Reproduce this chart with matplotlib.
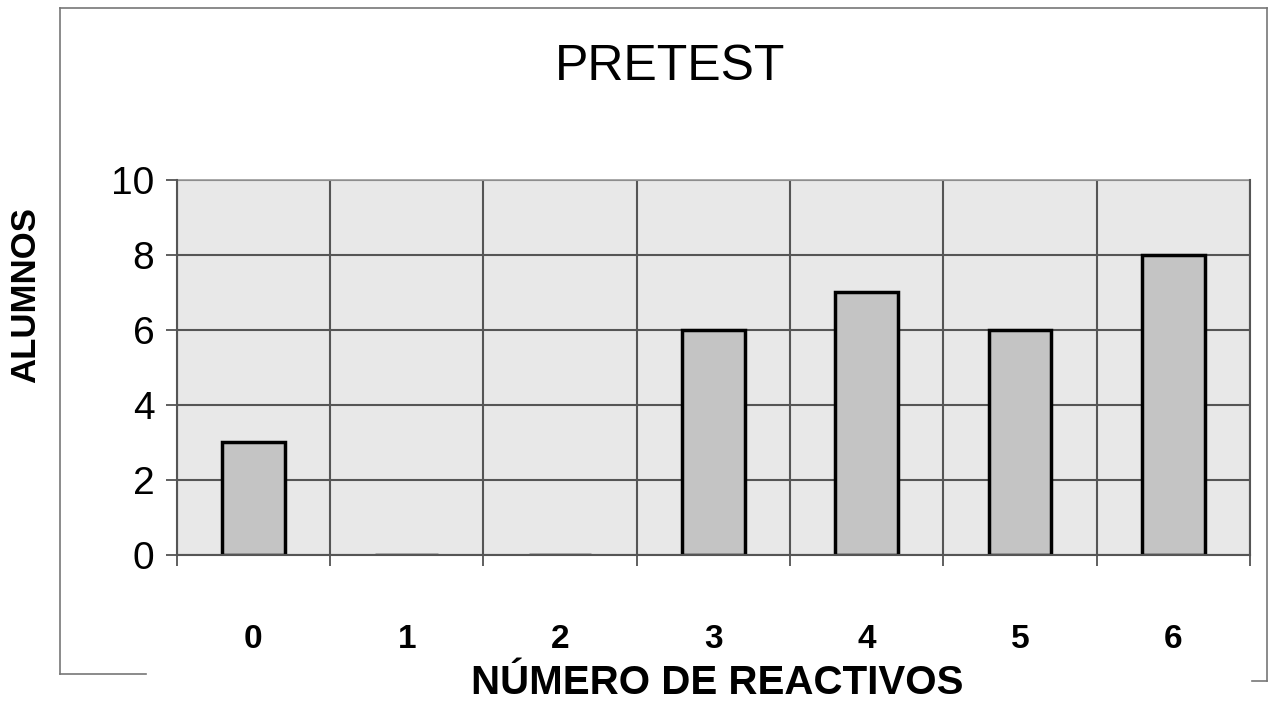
import numpy as np
import matplotlib.pyplot as plt
from matplotlib.lines import Line2D

plt.rcParams['font.family'] = ['Liberation Sans', 'DejaVu Sans']

# datos del gráfico
reactivos = ['0', '1', '2', '3', '4', '5', '6']
alumnos = [3, 0, 0, 6, 7, 6, 8]
y_ticks = [0, 2, 4, 6, 8, 10]

fig = plt.figure(figsize=(12.71, 7.02), dpi=100)
ax = fig.add_axes([0.139, 0.2094, 0.8445, 0.5342])

x = np.arange(len(reactivos))
ax.bar(x, alumnos, width=0.41, color='#c4c4c4', edgecolor='black', linewidth=2.5, zorder=3)

ax.set_facecolor('#e8e8e8')
ax.set_xlim(-0.5, len(reactivos) - 0.5)
ax.set_ylim(0, 10)

ax.set_xticks(x)
ax.set_xticklabels(reactivos, fontsize=24, fontweight='bold')
ax.set_xticks(np.arange(len(reactivos) + 1) - 0.5, minor=True)
ax.tick_params(axis='x', which='major', length=0, pad=50)
ax.tick_params(axis='x', which='minor', length=8, width=1.2, color='#444444')
ax.set_yticks(y_ticks)
ax.set_yticklabels([str(v) for v in y_ticks], fontsize=28)
ax.tick_params(axis='y', length=8, width=1.2, color='#444444', pad=8)

ax.grid(axis='x', which='minor', color='#555555', linewidth=1.5, zorder=1)
ax.grid(axis='y', which='major', color='#555555', linewidth=1.5, zorder=1)
ax.set_axisbelow(True)

for s in ['left', 'bottom', 'right']:
    ax.spines[s].set_color('#555555')
    ax.spines[s].set_linewidth(1.5)
    ax.spines[s].set_zorder(4)
ax.spines['top'].set_color('#999999')
ax.spines['top'].set_linewidth(1.2)

fig.text(0.527, 0.905, 'PRETEST', fontsize=36, ha='center', va='center')
fig.text(0.564, 0.027, 'NÚMERO DE REACTIVOS', fontsize=29, fontweight='bold',
         ha='center', va='center')
fig.text(0.02, 0.58, 'ALUMNOS', fontsize=25, fontweight='bold', rotation=90,
         ha='center', va='center')

# marco del gráfico
marco = dict(color='#777777', linewidth=1.2, transform=fig.transFigure)
fig.add_artist(Line2D([0.047, 0.047], [0.04, 0.988], **marco))
fig.add_artist(Line2D([0.047, 0.997], [0.988, 0.988], **marco))
fig.add_artist(Line2D([0.997, 0.997], [0.03, 0.988], **marco))
fig.add_artist(Line2D([0.047, 0.115], [0.04, 0.04], **marco))
fig.add_artist(Line2D([0.985, 0.997], [0.03, 0.03], **marco))

fig.savefig('out.png', dpi=100, facecolor='white')
